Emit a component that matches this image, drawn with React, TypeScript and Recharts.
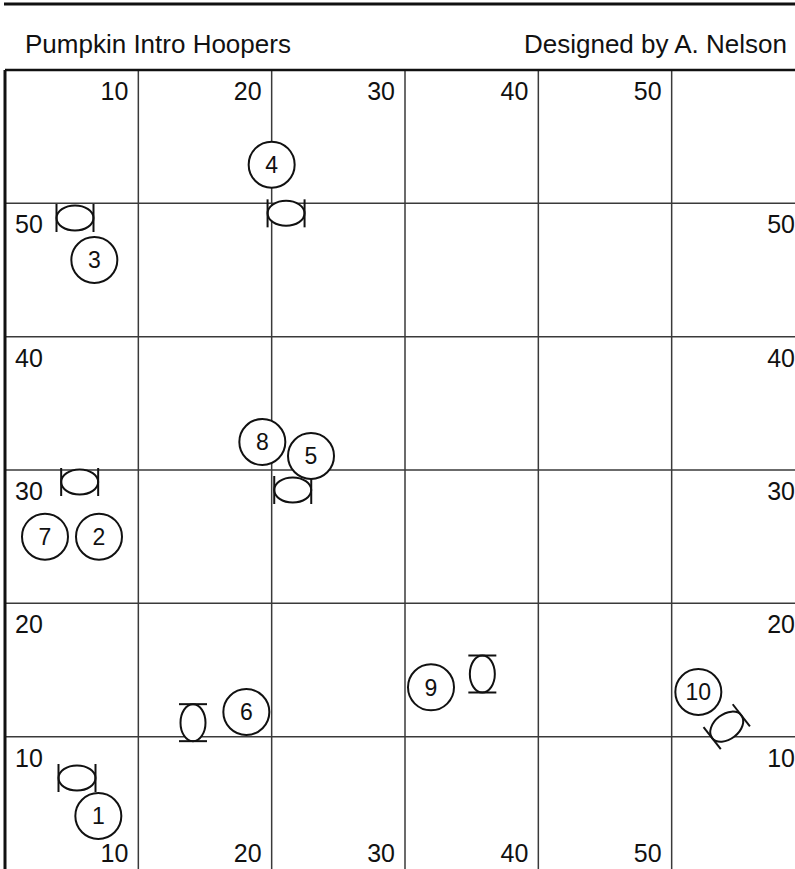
import React from "react";
import {
  ScatterChart,
  Scatter,
  XAxis,
  YAxis,
  CartesianGrid,
  ReferenceLine,
} from "recharts";

// course data (feet)
const gridTicks = [10, 20, 30, 40, 50];

const stationNumbers = [1, 2, 3, 4, 5, 6, 7, 8, 9, 10];
const stationX = [7, 7.05, 6.7, 20, 22.95, 18.1, 3, 19.3, 31.95, 52];
const stationY = [4.05, 25, 45.75, 52.9, 31.05, 11.85, 25, 32.1, 13.7, 13.35];

const hoopX = [5.25, 21.08, 5.6, 21.58, 14.1, 35.8, 54.13, 5.4];
const hoopY = [48.9, 49.25, 29.1, 28.5, 11.05, 14.7, 10.75, 6.9];
const hoopAngles = [0, 0, 0, 0, 90, 90, 38, 0];

const stations = stationNumbers.map((n, i) => ({
  x: stationX[i],
  y: stationY[i],
  label: n,
}));
const hoops = hoopX.map((x, i) => ({ x, y: hoopY[i], angle: hoopAngles[i] }));

const FONT = '"Liberation Sans", Arial, Helvetica, sans-serif';
const INK = "#111";

const StationMark = (props: any) => {
  const { cx, cy, payload } = props;
  return (
    <g>
      <circle cx={cx} cy={cy} r={23} fill="#fff" stroke={INK} strokeWidth={2} />
      <text
        x={cx}
        y={cy + 8.3}
        textAnchor="middle"
        fontSize={23}
        fontFamily={FONT}
        fill={INK}
      >
        {payload.label}
      </text>
    </g>
  );
};

const HoopMark = (props: any) => {
  const { cx, cy, payload } = props;
  const rx = 18.5;
  const ry = 12.5;
  const bar = 14;
  return (
    <g transform={`translate(${cx},${cy}) rotate(${-payload.angle})`}>
      <ellipse rx={rx} ry={ry} fill="#fff" stroke={INK} strokeWidth={2} />
      <line x1={-rx} y1={-bar} x2={-rx} y2={bar} stroke={INK} strokeWidth={2} />
      <line x1={rx} y1={-bar} x2={rx} y2={bar} stroke={INK} strokeWidth={2} />
    </g>
  );
};

const makeTick = (dx: number, dy: number, anchor: "start" | "end") => (props: any) => {
  const { x, y, payload } = props;
  return (
    <text
      x={x + dx}
      y={y + dy}
      textAnchor={anchor}
      fontSize={25}
      fontFamily={FONT}
      fill={INK}
    >
      {payload.value}
    </text>
  );
};

const axisCommon = {
  type: "number" as const,
  domain: [0, 60],
  ticks: gridTicks,
  axisLine: false,
  tickLine: false,
  tickSize: 0,
  tickMargin: 0,
  interval: 0 as const,
  allowDataOverflow: true,
};

const App = () => {
  return (
    <div
      style={{
        position: "absolute",
        left: 0,
        top: 0,
        width: 795,
        height: 869,
        overflow: "hidden",
        background: "#fff",
      }}
    >
      <ScatterChart
        width={810}
        height={880}
        margin={{ top: 69, left: 4, right: 4, bottom: 9 }}
      >
        <CartesianGrid
          xAxisId="bottom"
          yAxisId="left"
          stroke="#3a3a3a"
          strokeWidth={1.5}
        />
        <XAxis
          {...axisCommon}
          xAxisId="top"
          orientation="top"
          dataKey="x"
          height={1}
          tick={makeTick(-10, 30, "end")}
        />
        <XAxis
          {...axisCommon}
          xAxisId="bottom"
          orientation="bottom"
          dataKey="x"
          height={1}
          tick={makeTick(-10, -8, "end")}
        />
        <YAxis
          {...axisCommon}
          yAxisId="left"
          orientation="left"
          dataKey="y"
          width={1}
          tick={makeTick(10, 30, "start")}
        />
        <YAxis
          {...axisCommon}
          yAxisId="right"
          orientation="right"
          dataKey="y"
          width={1}
          tick={makeTick(-10, 30, "end")}
        />
        <ReferenceLine xAxisId="bottom" yAxisId="left" x={0} stroke={INK} strokeWidth={3} />
        <ReferenceLine xAxisId="bottom" yAxisId="left" y={60} stroke={INK} strokeWidth={2.5} />
        <Scatter
          xAxisId="bottom"
          yAxisId="left"
          data={hoops}
          shape={HoopMark}
          isAnimationActive={false}
        />
        <Scatter
          xAxisId="bottom"
          yAxisId="left"
          data={stations}
          shape={StationMark}
          isAnimationActive={false}
        />
      </ScatterChart>
      <svg
        width={795}
        height={70}
        style={{ position: "absolute", left: 0, top: 0, pointerEvents: "none" }}
      >
        <line x1={4} y1={4} x2={795} y2={4} stroke={INK} strokeWidth={3} />
        <text x={25} y={53} fontSize={26} fontFamily={FONT} fill={INK}>
          Pumpkin Intro Hoopers
        </text>
        <text x={787} y={53} fontSize={26} fontFamily={FONT} fill={INK} textAnchor="end">
          Designed by A. Nelson
        </text>
      </svg>
    </div>
  );
};

export default App;
